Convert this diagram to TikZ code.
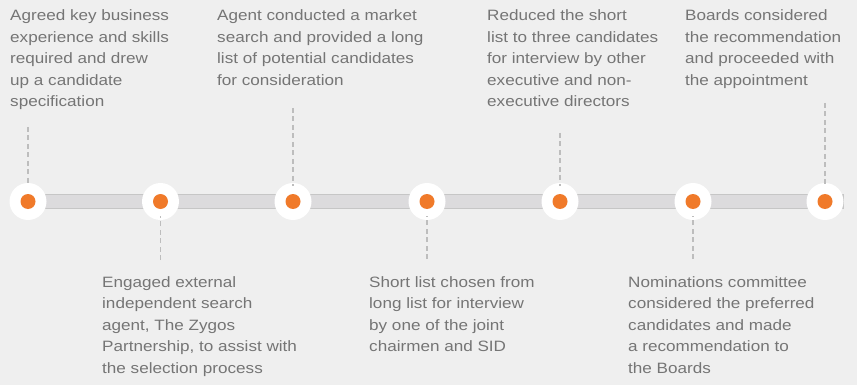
\documentclass[tikz,border=0pt]{standalone}
\usepackage{fontspec}
\setmainfont{Liberation Sans}[FakeStretch=1.14]
\definecolor{bg}{HTML}{EFEFEF}
\definecolor{barfill}{HTML}{DCDBDD}
\definecolor{barline}{HTML}{C6C6C6}
\definecolor{dot}{HTML}{F07A2A}
\definecolor{txt}{HTML}{757575}
\definecolor{dash}{HTML}{BDBDBD}
\begin{document}
\begin{tikzpicture}[x=1pt,y=-1pt,
  ring/.style={circle,fill=white,minimum size=37pt,inner sep=0pt},
  core/.style={circle,fill=dot,minimum size=15pt,inner sep=0pt},
  label/.style={anchor=base west,inner sep=0pt,text=txt,
    font=\fontsize{15}{21.5}\selectfont},
  guide/.style={draw=dash,line width=1.1pt,dash pattern=on 5pt off 3.5pt}
]
\fill[bg] (0,0) rectangle (857,385);
\useasboundingbox (0,0) rectangle (857,385);
% bar
\coordinate (barA) at (28,194.5);
\coordinate (barB) at (843,208.5);
\draw[barline,fill=barfill,line width=1.4pt] (barA) rectangle (barB);
% nodes
\foreach \i/\x in {1/28,2/160.5,3/293,4/427,5/560,6/693,7/825}{
  \node[ring] (c\i) at (\x,201.5) {};
  \node[core] (d\i) at (c\i) {};
}
% texts top
\newcommand{\tb}[1]{\parbox[t]{240pt}{\raggedright #1}}
\node[label] (t1) at (10,21) {\tb{Agreed key business\\experience and skills\\required and drew\\up a candidate\\specification}};
\node[label] (t3) at (217,21) {\tb{Agent conducted a market\\search and provided a long\\list of potential candidates\\for consideration}};
\node[label] (t5) at (487,21) {\tb{Reduced the short\\list to three candidates\\for interview by other\\executive and non-\\executive directors}};
\node[label] (t7) at (685,21) {\tb{Boards considered\\the recommendation\\and proceeded with\\the appointment}};
% texts bottom
\node[label] (t2) at (102,287) {\tb{Engaged external\\independent search\\agent, The Zygos\\Partnership, to assist with\\the selection process}};
\node[label] (t4) at (369,287) {\tb{Short list chosen from\\long list for interview\\by one of the joint\\chairmen and SID}};
\node[label] (t6) at (628,287) {\tb{Nominations committee\\considered the preferred\\candidates and made\\a recommendation to\\the Boards}};
% guides
\coordinate (g1) at (28,127);
\coordinate (g3) at (293,108);
\coordinate (g5) at (560,133);
\coordinate (g7) at (825,103);
\coordinate (g2) at (160.5,260);
\coordinate (g4) at (427,259);
\coordinate (g6) at (693,259);
\foreach \i in {1,3,5,7}{\draw[guide] (g\i) -- ([yshift=-3pt]c\i.north);}
\foreach \i in {2,4,6}{\draw[guide] (g\i) -- ([yshift=4pt]c\i.south);}
\end{tikzpicture}
\end{document}
